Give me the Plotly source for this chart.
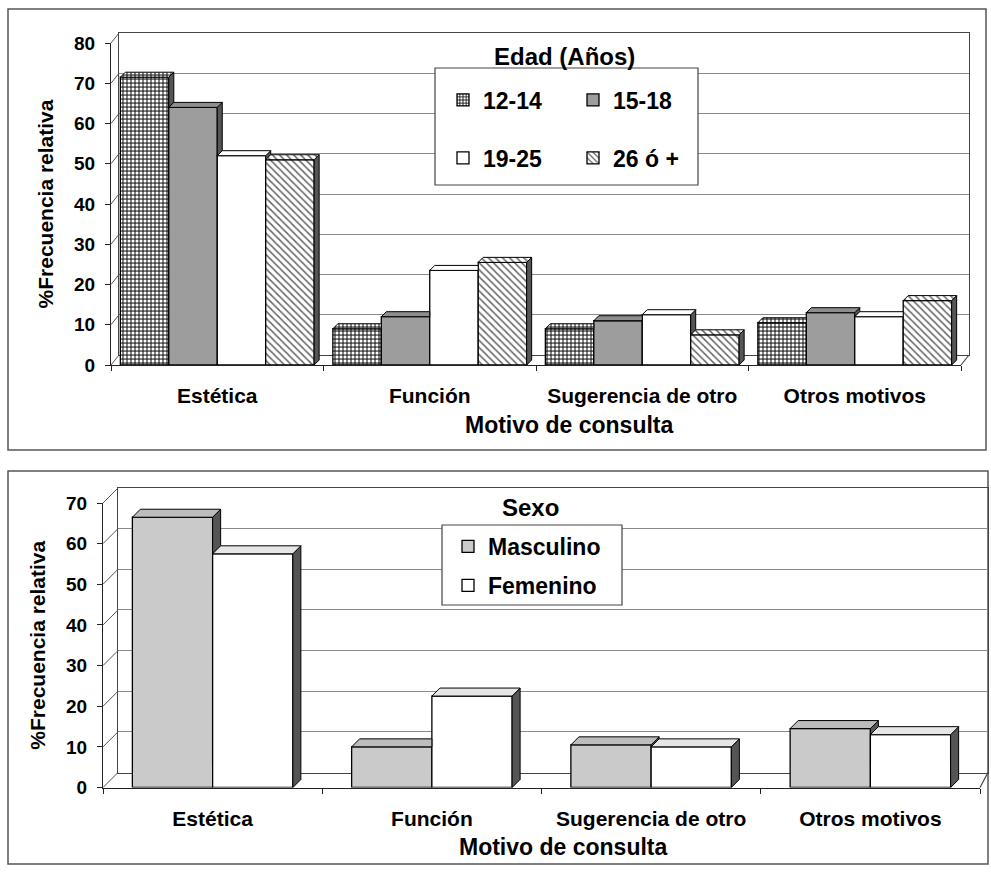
import plotly.graph_objects as go

# ---- data -------------------------------------------------------------
categories = ["Estética", "Función", "Sugerencia de otro", "Otros motivos"]

edad_labels = ["12-14", "15-18", "19-25", "26 ó +"]
edad_12_14 = [71.5, 9.0, 9.0, 10.5]
edad_15_18 = [64.0, 12.0, 11.0, 13.0]
edad_19_25 = [52.0, 23.5, 12.5, 12.0]
edad_26_mas = [51.0, 25.5, 7.5, 16.0]

sexo_labels = ["Masculino", "Femenino"]
sexo_masculino = [66.5, 10.0, 10.5, 14.5]
sexo_femenino = [57.5, 22.5, 10.0, 13.0]

y_ticks_edad = [0, 10, 20, 30, 40, 50, 60, 70, 80]
y_ticks_sexo = [0, 10, 20, 30, 40, 50, 60, 70]

x_title = "Motivo de consulta"
y_title = "%Frecuencia relativa"

# ---- page geometry (pixels) ------------------------------------------
W, H = 991, 873
FONT = "Liberation Sans, Arial, sans-serif"
INK = "#222222"


def px(x):
    return x / W


def py(y):
    return 1 - y / H


# front plane (axes with ticks) and back wall of each 3-D panel
TOP = dict(fx0=111, fx1=961, fy0=365, fy1=43, ymax=80,
           bx0=119, bx1=969, by0=355, by1=33, depth=5,
           width=0.228, ticks=y_ticks_edad, xtitle=(569, 425))
BOT = dict(fx0=103, fx1=980, fy0=787.5, fy1=503, ymax=70,
           bx0=118, bx1=988, by0=772.5, by1=488, depth=8,
           width=0.366, ticks=y_ticks_sexo, xtitle=(563, 847))

SIDE_COLOR = "#555555"

styles_edad = [
    dict(color="#444444", pattern=dict(shape=".", bgcolor="#444444", fgcolor="white",
                                       size=4, solidity=0.45)),
    dict(color="#9d9d9d", pattern=None),
    dict(color="white", pattern=None),
    dict(color="white", pattern=dict(shape="\\", bgcolor="white", fgcolor="#666666",
                                     size=5, solidity=0.3)),
]
top_colors_edad = ["#444444", "#8e8e8e", "white", "white"]
styles_sexo = [
    dict(color="#cacaca", pattern=None),
    dict(color="white", pattern=None),
]
top_colors_sexo = ["#bdbdbd", "#e6e6e6"]

fig = go.Figure()

# invisible traces so the back-wall subplots exist
for xa, ya in (("x", "y"), ("x2", "y2")):
    fig.add_trace(go.Scatter(x=[], y=[], xaxis=xa, yaxis=ya,
                             showlegend=False, hoverinfo="skip"))


def add_panel(series, labels, styles, top_colors, geom, xa, ya, legends):
    n = len(series)
    w = geom["width"]
    offsets = [-n * w / 2 + k * w for k in range(n)]
    xs = list(range(len(categories)))

    # front faces
    for k, vals in enumerate(series):
        st = styles[k]
        marker = dict(color=st["color"], line=dict(color="black", width=1.3))
        if st["pattern"]:
            marker["pattern"] = dict(fillmode="replace", **st["pattern"])
        fig.add_trace(go.Bar(
            x=xs, y=vals, width=w, offset=offsets[k], name=labels[k],
            marker=marker, xaxis=xa, yaxis=ya, legend=legends[k],
            legendgroup=labels[k], hoverinfo="skip"))

    # depth: right side faces and top faces
    px_per_x = (geom["fx1"] - geom["fx0"]) / len(categories)
    px_per_y = (geom["fy0"] - geom["fy1"]) / geom["ymax"]
    dx = geom["depth"] / px_per_x
    dy = geom["depth"] / px_per_y

    tops = []
    for k, vals in enumerate(series):
        sx, sy, tx, ty = [], [], [], []
        for i, v in enumerate(vals):
            left = i + offsets[k]
            right = left + w
            nxt = series[k + 1][i] if k + 1 < n else 0.0
            if v > nxt:
                sx += [right, right + dx, right + dx, right, right, None]
                sy += [nxt, nxt + dy, v + dy, v, nxt, None]
            far = right if nxt > v else right + dx
            tx += [left, left + dx, far, right, left, None]
            ty += [v, v + dy, v + dy, v, v, None]
        if sx:
            fig.add_trace(go.Scatter(
                x=sx, y=sy, mode="lines", fill="toself", fillcolor=SIDE_COLOR,
                line=dict(color="black", width=1), xaxis=xa, yaxis=ya,
                showlegend=False, hoverinfo="skip"))
        tops.append((k, tx, ty))

    for k, tx, ty in tops:
        st = styles[k]
        kw = dict(fillcolor=top_colors[k])
        if st["pattern"]:
            kw["fillpattern"] = dict(fillmode="replace", **st["pattern"])
        fig.add_trace(go.Scatter(
            x=tx, y=ty, mode="lines", fill="toself",
            line=dict(color="black", width=1), xaxis=xa, yaxis=ya,
            showlegend=False, hoverinfo="skip", **kw))


add_panel([edad_12_14, edad_15_18, edad_19_25, edad_26_mas], edad_labels,
          styles_edad, top_colors_edad, TOP, "x3", "y3",
          ["legend", "legend", "legend2", "legend2"])
add_panel([sexo_masculino, sexo_femenino], sexo_labels,
          styles_sexo, top_colors_sexo, BOT, "x4", "y4",
          ["legend3", "legend3"])


def back_axes(geom):
    xa = dict(domain=[px(geom["bx0"]), px(geom["bx1"])], range=[0, 1],
              showgrid=False, showticklabels=False, zeroline=False, ticks="",
              showline=True, mirror=True, linecolor="#444444", linewidth=1.2,
              fixedrange=True, automargin=False)
    ya = dict(domain=[py(geom["by0"]), py(geom["by1"])], range=[0, geom["ymax"]],
              tickvals=geom["ticks"], showgrid=True, gridcolor="#8a8a8a", gridwidth=1,
              showticklabels=False, zeroline=False, ticks="",
              showline=True, mirror=True, linecolor="#444444", linewidth=1.2,
              fixedrange=True, automargin=False)
    return xa, ya


def front_axes(geom, anchor_x, anchor_y):
    xa = dict(domain=[px(geom["fx0"]), px(geom["fx1"])], range=[-0.5, 3.5],
              tickvals=list(range(len(categories))), ticktext=categories,
              ticks="", showgrid=False, zeroline=False,
              showline=True, linecolor=INK, linewidth=1.3,
              minor=dict(tickvals=[-0.5, 0.5, 1.5, 2.5, 3.5], ticks="outside",
                         ticklen=5, tickcolor=INK, tickwidth=1, showgrid=False),
              tickfont=dict(family=FONT, size=21, color="black", weight="bold"),
              ticklabelstandoff=12,
              anchor=anchor_y, fixedrange=True, automargin=False)
    ya = dict(domain=[py(geom["fy0"]), py(geom["fy1"])], range=[0, geom["ymax"]],
              tickvals=geom["ticks"], ticks="outside", ticklen=5, tickcolor=INK,
              showgrid=False, zeroline=False,
              showline=True, linecolor=INK, linewidth=1.3,
              tickfont=dict(family=FONT, size=19, color="black", weight="bold"),
              ticklabelstandoff=6,
              title=dict(text=y_title, standoff=14,
                         font=dict(family=FONT, size=21, color="black", weight="bold")),
              anchor=anchor_x, fixedrange=True, automargin=False)
    return xa, ya


bx1, by1 = back_axes(TOP)
bx2, by2 = back_axes(BOT)
fx3, fy3 = front_axes(TOP, "x3", "y3")
fx4, fy4 = front_axes(BOT, "x4", "y4")
bx1["anchor"], by1["anchor"] = "y", "x"
bx2["anchor"], by2["anchor"] = "y2", "x2"

# frame lines: side walls, floor edge, panel borders and legend boxes
shapes = []
for geom in (TOP, BOT):
    for v in geom["ticks"]:
        f = geom["fy0"] + (geom["fy1"] - geom["fy0"]) * v / geom["ymax"]
        b = geom["by0"] + (geom["by1"] - geom["by0"]) * v / geom["ymax"]
        shapes.append(dict(type="line", xref="paper", yref="paper",
                           x0=px(geom["fx0"]), y0=py(f), x1=px(geom["bx0"]), y1=py(b),
                           line=dict(color="#555555", width=1)))
    shapes.append(dict(type="line", xref="paper", yref="paper",
                       x0=px(geom["fx1"]), y0=py(geom["fy0"]),
                       x1=px(geom["bx1"]), y1=py(geom["by0"]),
                       line=dict(color="#444444", width=1.2)))

for (x0, y0, x1, y1) in ((8, 9, 986, 450), (8, 471, 988, 864)):
    shapes.append(dict(type="rect", xref="paper", yref="paper", layer="below",
                       x0=px(x0), y0=py(y1), x1=px(x1), y1=py(y0),
                       line=dict(color="#555555", width=1.5)))

for (x0, y0, x1, y1) in ((435, 68, 698, 185), (442, 525, 622, 605)):
    shapes.append(dict(type="rect", xref="paper", yref="paper", layer="above",
                       x0=px(x0), y0=py(y1), x1=px(x1), y1=py(y0),
                       fillcolor="white", line=dict(color="#444444", width=1.2)))

legend_font = dict(family=FONT, size=23, color="black", weight="bold")
title_font = dict(family=FONT, size=24, color="black", weight="bold")
axis_title_font = dict(family=FONT, size=23, color="black", weight="bold")

annotations = [
    dict(text="Edad (Años)", x=px(564), y=py(57), xref="paper", yref="paper",
         showarrow=False, xanchor="center", yanchor="middle", font=title_font),
    dict(text="Sexo", x=px(530), y=py(507), xref="paper", yref="paper",
         showarrow=False, xanchor="center", yanchor="middle", font=title_font),
]
for geom in (TOP, BOT):
    tx, ty = geom["xtitle"]
    annotations.append(dict(text=x_title, x=px(tx), y=py(ty), xref="paper", yref="paper",
                            showarrow=False, xanchor="center", yanchor="middle",
                            font=axis_title_font))

fig.update_layout(
    width=W, height=H, margin=dict(l=0, r=0, t=0, b=0),
    paper_bgcolor="white", plot_bgcolor="rgba(0,0,0,0)",
    barmode="overlay", showlegend=True,
    xaxis=bx1, yaxis=by1, xaxis2=bx2, yaxis2=by2,
    xaxis3=fx3, yaxis3=fy3, xaxis4=fx4, yaxis4=fy4,
    legend=dict(x=px(443), y=py(100), xanchor="left", yanchor="middle",
                orientation="h", entrywidth=85, bgcolor="rgba(0,0,0,0)",
                font=legend_font),
    legend2=dict(x=px(443), y=py(158), xanchor="left", yanchor="middle",
                 orientation="h", entrywidth=85, bgcolor="rgba(0,0,0,0)",
                 font=legend_font),
    legend3=dict(x=px(448), y=py(566), xanchor="left", yanchor="middle",
                 orientation="v", tracegroupgap=6, bgcolor="rgba(0,0,0,0)",
                 font=legend_font),
    shapes=shapes,
    annotations=annotations,
)

fig.write_html("out.html")
